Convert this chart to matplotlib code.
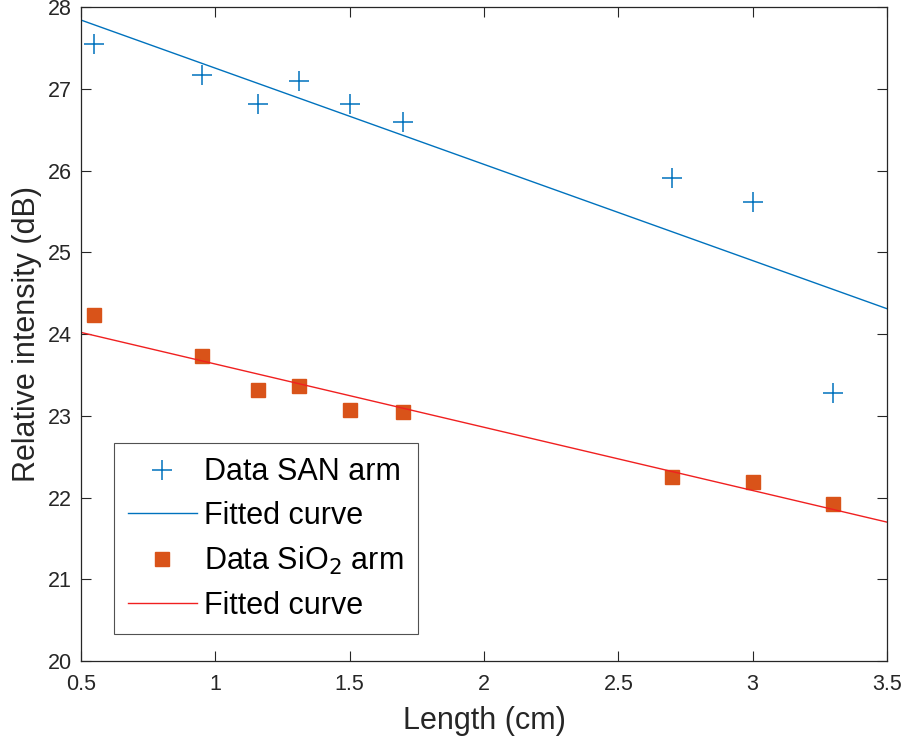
import matplotlib
matplotlib.use("Agg")
import matplotlib.pyplot as plt

plt.rcParams['font.family'] = ['Liberation Sans', 'DejaVu Sans']

# Measured relative intensity vs. waveguide length
length_cm = [0.55, 0.95, 1.16, 1.31, 1.50, 1.70, 2.70, 3.00, 3.30]
san_db = [27.55, 27.17, 26.81, 27.09, 26.81, 26.59, 25.91, 25.62, 23.28]
sio2_db = [24.23, 23.73, 23.32, 23.37, 23.07, 23.05, 22.25, 22.19, 21.92]

# Linear fit lines evaluated over the axis span
fit_x = [0.5, 3.5]
san_fit = [27.84, 24.31]
sio2_fit = [24.02, 21.70]

x_ticks = [0.5, 1, 1.5, 2, 2.5, 3, 3.5]
x_tick_labels = ['0.5', '1', '1.5', '2', '2.5', '3', '3.5']
y_ticks = [20, 21, 22, 23, 24, 25, 26, 27, 28]

blue = '#0072BD'
orange = '#D95319'
red = '#F02020'
axcol = '#262626'

fig = plt.figure(figsize=(9.06, 7.42), dpi=100)
ax = fig.add_axes([0.0894, 0.109, 0.8896, 0.8816])

ax.plot(length_cm, san_db, linestyle='none', marker='+', markersize=14,
        markeredgewidth=1.1, color=blue, label='Data SAN arm')
ax.plot(fit_x, san_fit, color=blue, linewidth=1.0, label='Fitted curve')
ax.plot(length_cm, sio2_db, linestyle='none', marker='s', markersize=10,
        color=orange, markeredgecolor=orange, label='Data SiO$_2$ arm')
ax.plot(fit_x, sio2_fit, color=red, linewidth=1.0, label='Fitted curve')

ax.set_xlim(0.5, 3.5)
ax.set_ylim(20, 28)
ax.set_xticks(x_ticks)
ax.set_xticklabels(x_tick_labels)
ax.set_yticks(y_ticks)

ax.tick_params(direction='in', length=7, width=0.8, top=True, right=True,
               labelsize=15.5, colors=axcol)
ax.tick_params(axis='x', pad=9.5)
ax.tick_params(axis='y', pad=6.5)
for s in ax.spines.values():
    s.set_color(axcol)
    s.set_linewidth(0.9)

ax.set_xlabel('Length (cm)', fontsize=22, color=axcol, labelpad=8)
ax.set_ylabel('Relative intensity (dB)', fontsize=22, color=axcol, labelpad=4)

leg = ax.legend(loc='lower left', bbox_to_anchor=(0.041, 0.041),
                borderaxespad=0, fontsize=22, frameon=True, fancybox=False,
                edgecolor=axcol, handlelength=2.25, handletextpad=0.26,
                labelspacing=0.45, borderpad=0.45)
leg.get_frame().set_linewidth(0.8)

fig.savefig('out.png', dpi=100)
